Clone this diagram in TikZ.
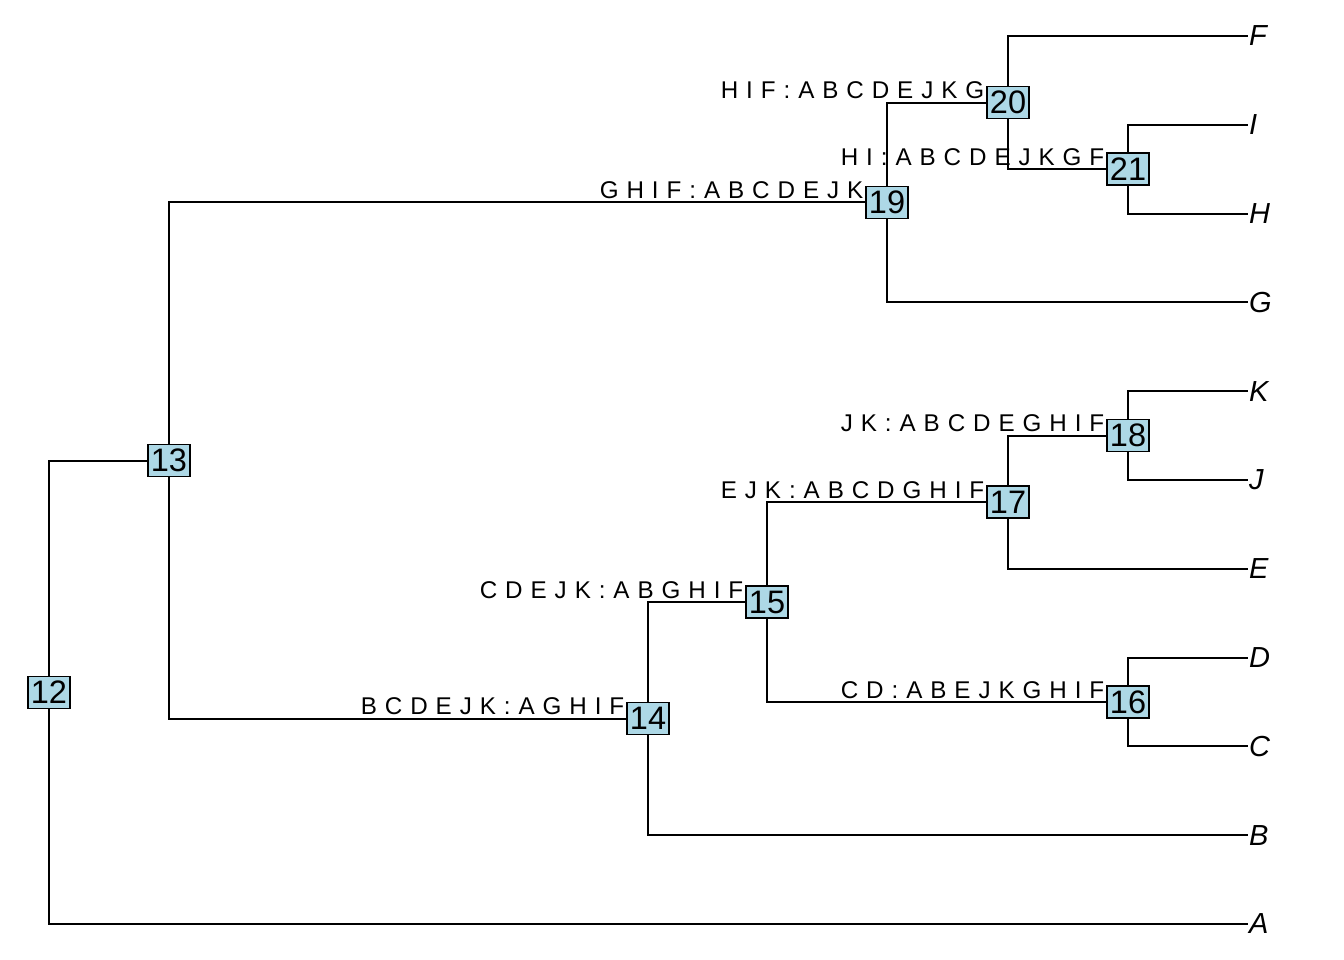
\documentclass[tikz,border=0pt]{standalone}
\usepackage{fontspec}
\setmainfont{Liberation Sans}
\definecolor{boxblue}{RGB}{173,216,230}

\begin{document}
\begin{tikzpicture}[x=1pt,y=-1pt,line width=2pt,
    numbox/.style={draw,fill=boxblue,line width=1.5pt,minimum width=42pt,minimum height=32pt,inner sep=0pt,font=\fontsize{32.5}{32}\selectfont},
    split/.style={pos=1,anchor=base east,xshift=-1pt,yshift=4pt,inner sep=0pt,font=\fontsize{24.2}{24}\selectfont\addfontfeature{LetterSpace=5}},
    tip/.style={anchor=west,inner sep=0pt,font=\fontsize{29}{29}\selectfont\itshape}]
  \useasboundingbox (0,0) rectangle (1344,960);
  % internal nodes
  \node[numbox] (n12) at (49,692.3)   {12};
  \node[numbox] (n13) at (169,460.6)  {13};
  \node[numbox] (n14) at (648,718.6)  {14};
  \node[numbox] (n15) at (767,602.1)  {15};
  \node[numbox] (n16) at (1128,702)   {16};
  \node[numbox] (n17) at (1008,502.2) {17};
  \node[numbox] (n18) at (1128,435.6) {18};
  \node[numbox] (n19) at (887,202.5)  {19};
  \node[numbox] (n20) at (1008,102.6) {20};
  \node[numbox] (n21) at (1128,169.2) {21};
  % tips
  \node[tip] (lF) at (1248,36)    {F};
  \node[tip] (lI) at (1248,124.8) {I};
  \node[tip] (lH) at (1248,213.6) {H};
  \node[tip] (lG) at (1248,302.4) {G};
  \node[tip] (lK) at (1248,391.2) {K};
  \node[tip] (lJ) at (1248,480)   {J};
  \node[tip] (lE) at (1248,568.8) {E};
  \node[tip] (lD) at (1248,657.6) {D};
  \node[tip] (lC) at (1248,746.4) {C};
  \node[tip] (lB) at (1248,835.2) {B};
  \node[tip] (lA) at (1248,924)   {A};
  % branches
  \draw (n12) |- (n13);
  \draw (n12) |- (lA);
  \draw (n13) |- (n19) node[split] {G H I F : A B C D E J K};
  \draw (n13) |- (n14) node[split] {B C D E J K : A G H I F};
  \draw (n19) |- (n20) node[split] {H I F : A B C D E J K G};
  \draw (n19) |- (lG);
  \draw (n20) |- (lF);
  \draw (n20) |- (n21) node[split] {H I : A B C D E J K G F};
  \draw (n21) |- (lI);
  \draw (n21) |- (lH);
  \draw (n14) |- (n15) node[split] {C D E J K : A B G H I F};
  \draw (n14) |- (lB);
  \draw (n15) |- (n17) node[split] {E J K : A B C D G H I F};
  \draw (n15) |- (n16) node[split] {C D : A B E J K G H I F};
  \draw (n17) |- (n18) node[split] {J K : A B C D E G H I F};
  \draw (n17) |- (lE);
  \draw (n18) |- (lK);
  \draw (n18) |- (lJ);
  \draw (n16) |- (lD);
  \draw (n16) |- (lC);
\end{tikzpicture}
\end{document}
